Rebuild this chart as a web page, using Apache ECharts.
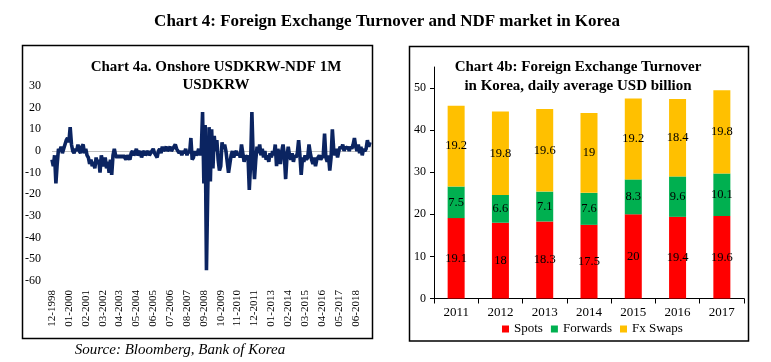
<!DOCTYPE html>
<html><head><meta charset="utf-8">
<script src="https://cdn.jsdelivr.net/npm/echarts@6/dist/echarts.min.js"></script>
<style>html,body{margin:0;padding:0;background:#fff}#c{width:771px;height:362px}</style>
</head><body><div id="c"></div>
<script>
const FONT = '"Liberation Serif", "Times New Roman", serif';

// Chart 4a: Onshore USDKRW - NDF 1M USDKRW (monthly, from 12-1998)
const spreadStartYear = 1998;
const spreadStartMonth = 12;
const spreadValues = [
  -4, -7, -2, -15, -6, 1, 0, 2, -1, 1,
  3, 5, 6, 4, 11, 3, 0, -1, 1, 0,
  3, 0, -1, 2, 3, -1, 1, -2, -3, -6,
  -4, -7, -5, -8, -3, -6, -4, -10, -2, -5,
  -7, -3, -8, -5, -10, -4, -11, -2, 1, -2,
  -3, -2, -3, -2, -3, -2, -3, -4, -2, -3,
  -4, -1, 0, -2, -1, 1, -2, -1, 0, -3,
  -1, 0, -2, -1, 0, -2, -1, 0, 1, -1,
  -2, -3, 0, 1, -1, 2, 0, 1, 2, 0,
  1, 2, 0, 1, 2, 3, 1, 0, -1, 0,
  -2, 0, -1, 1, -2, 0, -1, 6, -4, -3,
  0, -2, -1, 1, -2, 0, 18, -15, 12, -55,
  -18, 11, -14, 10, -8, 7, 0, 5, -4, -9,
  -7, 4, 1, 3, 0, -5, -10, -6, -2, 0,
  -3, -1, 0, -2, -1, -3, 3, -1, -5, -2,
  -4, -2, -18, -6, 18, -3, -13, -4, 2, -1,
  3, -2, 1, -3, 0, -4, -2, -5, -1, -3,
  0, -2, 3, -7, 1, -2, -6, 0, 3, -2,
  -13, -3, 2, -2, -4, -1, -5, -2, -3, -1,
  5, -2, -11, -3, -5, -2, -4, -3, 3, -1,
  -4, -6, -3, -7, -4, -3, -2, -4, -3, -2,
  8, -3, -5, -2, -9, -3, 10, 1, -2, 1,
  -3, 0, 2, 1, 3, 0, 2, 1, 2, 0,
  2, 1, 3, 6, 2, 0, 3, -1, 2, -2,
  1, 0, 1, 5, 2, 4
];
const spreadMonths = spreadValues.map((v, i) => {
  const idx = spreadStartMonth - 1 + i;
  const m = (idx % 12) + 1;
  const y = spreadStartYear + Math.floor(idx / 12);
  return (m < 10 ? '0' + m : '' + m) + '-' + y;
});

// Chart 4b: Foreign exchange turnover (USD bn, daily average)
const turnoverYears = ['2011', '2012', '2013', '2014', '2015', '2016', '2017'];
const spots    = [19.1, 18, 18.3, 17.5, 20, 19.4, 19.6];
const forwards = [7.5, 6.6, 7.1, 7.6, 8.3, 9.6, 10.1];
const fxSwaps  = [19.2, 19.8, 19.6, 19, 19.2, 18.4, 19.8];

const mainTitle = 'Chart 4: Foreign Exchange Turnover and NDF market in Korea';
const leftTitle = 'Chart 4a. Onshore USDKRW-NDF 1M\nUSDKRW';
const rightTitle = 'Chart 4b: Foreign Exchange Turnover\nin Korea, daily average USD billion';
const sourceText = 'Source: Bloomberg, Bank of Korea';

const chart = echarts.init(document.getElementById('c'), null, {renderer: 'canvas'});

const barLabel = {show: true, position: 'inside', color: '#000', fontSize: 12.5, fontFamily: FONT};

chart.setOption({
  animation: false,
  backgroundColor: '#fff',
  textStyle: {fontFamily: FONT, color: '#000'},
  grid: [
    {left: 52, top: 86, width: 318, height: 195},
    {left: 434, top: 67, width: 310, height: 231.5}
  ],
  xAxis: [
    {
      gridIndex: 0, type: 'category', data: spreadMonths, boundaryGap: false,
      axisLine: {show: false}, axisTick: {show: false}, splitLine: {show: false},
      axisLabel: {rotate: 90, interval: 12, fontSize: 11, fontFamily: FONT, color: '#000', margin: 9}
    },
    {
      gridIndex: 1, type: 'category', data: turnoverYears,
      axisLine: {lineStyle: {color: '#000', width: 1}},
      axisTick: {show: true, length: 5, lineStyle: {color: '#000'}},
      axisLabel: {fontSize: 13, fontFamily: FONT, color: '#000', margin: 8}
    }
  ],
  yAxis: [
    {
      gridIndex: 0, type: 'value', min: -60, max: 30, interval: 10,
      axisLine: {show: false}, axisTick: {show: false}, splitLine: {show: false},
      axisLabel: {fontSize: 12, fontFamily: FONT, color: '#000', margin: 11}
    },
    {
      gridIndex: 1, type: 'value', min: 0, max: 55, interval: 10,
      axisLine: {show: true, lineStyle: {color: '#000', width: 1}},
      axisTick: {show: true, length: 4, lineStyle: {color: '#000'}},
      splitLine: {show: false},
      axisLabel: {fontSize: 12, fontFamily: FONT, color: '#000', margin: 8, showMaxLabel: false}
    }
  ],
  legend: {
    data: ['Spots', 'Forwards', 'Fx Swaps'],
    left: 502, top: 322.5, padding: 0,
    itemWidth: 7, itemHeight: 7, itemGap: 8, icon: 'rect',
    textStyle: {fontSize: 13, fontFamily: FONT, color: '#000'}
  },
  series: [
    {
      name: 'Spread', type: 'line', xAxisIndex: 0, yAxisIndex: 0,
      data: spreadValues, symbol: 'none',
      lineStyle: {color: '#0B2461', width: 3.6},
      markLine: {
        silent: true, symbol: 'none', z: 1, animation: false,
        label: {show: false},
        lineStyle: {color: '#BFBFBF', width: 1, type: 'solid'},
        data: [{yAxis: 0}]
      }
    },
    {name: 'Spots', type: 'bar', stack: 'fx', xAxisIndex: 1, yAxisIndex: 1, data: spots,
     barWidth: 17, itemStyle: {color: '#FF0000'}, label: barLabel},
    {name: 'Forwards', type: 'bar', stack: 'fx', xAxisIndex: 1, yAxisIndex: 1, data: forwards,
     barWidth: 17, itemStyle: {color: '#00B050'}, label: barLabel},
    {name: 'Fx Swaps', type: 'bar', stack: 'fx', xAxisIndex: 1, yAxisIndex: 1, data: fxSwaps,
     barWidth: 17, itemStyle: {color: '#FFC000'}, label: barLabel}
  ],
  graphic: [
    {type: 'rect', silent: true, shape: {x: 22.5, y: 45.5, width: 350, height: 293},
     style: {fill: 'none', stroke: '#000', lineWidth: 1.5}},
    {type: 'rect', silent: true, shape: {x: 409.5, y: 46.5, width: 339, height: 294.5},
     style: {fill: 'none', stroke: '#000', lineWidth: 1.5}},
    {type: 'text', silent: true, x: 387, y: 22,
     style: {text: mainTitle, font: 'bold 17px ' + FONT, fill: '#000',
             align: 'center', verticalAlign: 'middle', textAlign: 'center', textVerticalAlign: 'middle'}},
    {type: 'text', silent: true, x: 216, y: 58,
     style: {text: leftTitle, font: 'bold 15px ' + FONT, fill: '#000', lineHeight: 18,
             align: 'center', verticalAlign: 'top', textAlign: 'center', textVerticalAlign: 'top'}},
    {type: 'text', silent: true, x: 578, y: 58,
     style: {text: rightTitle, font: 'bold 15px ' + FONT, fill: '#000', lineHeight: 19,
             align: 'center', verticalAlign: 'top', textAlign: 'center', textVerticalAlign: 'top'}},
    {type: 'text', silent: true, x: 180, y: 350,
     style: {text: sourceText, font: 'italic 15px ' + FONT, fill: '#000',
             align: 'center', verticalAlign: 'middle', textAlign: 'center', textVerticalAlign: 'middle'}}
  ]
});
</script>
</body></html>
